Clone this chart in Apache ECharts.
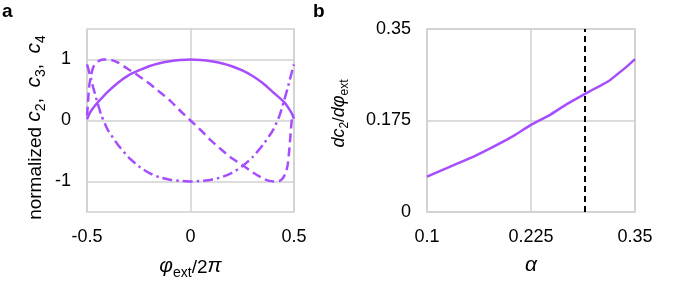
<!DOCTYPE html>
<html>
<head>
<meta charset="utf-8">
<script src="https://cdn.jsdelivr.net/npm/echarts@6/dist/echarts.min.js"></script>
<style>html,body{margin:0;padding:0;background:#fff}#c{width:675px;height:300px}</style>
</head>
<body>
<div id="c"></div>
<script>
// Panel a data
const c2X = [-0.5,-0.49,-0.48,-0.46,-0.45,-0.4,-0.35,-0.3,-0.25,-0.2,-0.15,-0.1,-0.05,0,0.05,0.1,0.15,0.2,0.25,0.3,0.35,0.4,0.45,0.46,0.48,0.49,0.5];
const c2Y = [0.02,0.1,0.16,0.25,0.29,0.47,0.62,0.74,0.82,0.89,0.94,0.97,0.99,1.0,0.99,0.97,0.94,0.89,0.82,0.73,0.61,0.46,0.31,0.27,0.17,0.11,0.03];
const c3X = [-0.5,-0.495,-0.49,-0.48,-0.47,-0.46,-0.44,-0.42,-0.4,-0.38,-0.35,-0.3,-0.25,-0.2,-0.15,-0.1,-0.05,0,0.05,0.1,0.15,0.2,0.25,0.3,0.35,0.38,0.41,0.43,0.445,0.46,0.47,0.478,0.485,0.49,0.5];
const c3Y = [0.08,0.3,0.55,0.75,0.87,0.93,0.98,1.0,1.0,0.99,0.95,0.84,0.73,0.61,0.47,0.33,0.16,0,-0.16,-0.33,-0.48,-0.62,-0.73,-0.85,-0.95,-0.99,-1.0,-0.99,-0.95,-0.86,-0.72,-0.45,-0.15,0.02,0.1];
const c4X = [-0.5,-0.49,-0.48,-0.47,-0.45,-0.43,-0.4,-0.35,-0.3,-0.25,-0.2,-0.15,-0.1,-0.05,0,0.05,0.1,0.15,0.2,0.25,0.3,0.35,0.4,0.43,0.45,0.47,0.48,0.49,0.5];
const c4Y = [0.92,0.8,0.67,0.54,0.3,0.08,-0.15,-0.4,-0.6,-0.75,-0.86,-0.93,-0.97,-0.99,-1,-0.99,-0.97,-0.93,-0.86,-0.75,-0.6,-0.4,-0.15,0.08,0.3,0.54,0.67,0.8,0.92];
// Panel b data
const alphaX = [0.1,0.128,0.156,0.18,0.204,0.225,0.248,0.268,0.29,0.308,0.318,0.328,0.34,0.35];
const dc2Y = [0.0677,0.0869,0.106,0.125,0.1456,0.1667,0.1859,0.2063,0.2261,0.2414,0.2500,0.2625,0.2780,0.2925];
const markerAlpha = 0.29;
const aYTicks = [-1,0,1];

const pair = (xs, ys) => xs.map((x,i)=>[x, ys[i]]);
const PURPLE = '#A64DFF';
const GRIDC = '#d0d0d0';
const LBL = {fontFamily:'Liberation Sans', fontSize:18, color:'#000'};
const base = {fontFamily:'Liberation Sans', color:'#000', verticalAlign:'bottom'};
const rich = {
  n:{...base, fontSize:19, lineHeight:19, padding:[0,0,3,0]},
  i:{...base, fontSize:21, lineHeight:21, fontStyle:'italic', padding:[0,0,3,0]},
  s:{...base, fontSize:14, lineHeight:14}
};
const richB = {
  n:{...base, fontSize:17, lineHeight:17, padding:[0,0,3,0]},
  i:{...base, fontSize:18, lineHeight:18, fontStyle:'italic', padding:[0,0,3,0]},
  s:{...base, fontSize:12, lineHeight:12}
};

const chart = echarts.init(document.getElementById('c'));
chart.setOption({
  animation:false,
  backgroundColor:'#fff',
  grid:[
    {left:87, top:29, width:207, height:183, show:true, borderColor:GRIDC, borderWidth:1.5},
    {left:427, top:29, width:208, height:183, show:true, borderColor:GRIDC, borderWidth:1.5}
  ],
  graphic:[
    {type:'text', left:2, top:2, style:{text:'a', font:'bold 19px Liberation Sans', fill:'#000'}},
    {type:'text', left:313, top:2, style:{text:'b', font:'bold 19px Liberation Sans', fill:'#000'}}
  ],
  xAxis:[
    {gridIndex:0, type:'value', min:-0.5, max:0.5, interval:0.5,
     axisLine:{show:false}, axisTick:{show:false},
     splitLine:{show:true, lineStyle:{color:GRIDC, width:1.5}},
     axisLabel:{...LBL, margin:16, formatter:v=>String(v)},
     name:'{i|φ}{s|ext}{n|/2}{i|π}', nameLocation:'middle', nameGap:47,
     nameTextStyle:{rich}},
    {gridIndex:1, type:'value', min:0.1, max:0.35, interval:0.125,
     axisLine:{show:false}, axisTick:{show:false},
     splitLine:{show:true, lineStyle:{color:GRIDC, width:1.5}},
     axisLabel:{...LBL, margin:16, formatter:v=>String(+v.toFixed(3))},
     name:'{i|α}', nameLocation:'middle', nameGap:46,
     nameTextStyle:{rich}}
  ],
  yAxis:[
    {gridIndex:0, type:'value', min:-1.5, max:1.5, interval:0.5,
     axisLine:{show:false}, axisTick:{show:false},
     splitLine:{show:true, lineStyle:{color:['transparent',GRIDC], width:1.5}},
     axisLabel:{...LBL, margin:16, formatter:v=>aYTicks.includes(v)?String(v):''},
     name:'{n|normalized }{i|c}{s|2}{n|,  }{i|c}{s|3}{n|,  }{i|c}{s|4}', nameLocation:'middle', nameGap:39, nameRotate:90,
     nameTextStyle:{rich, padding:[0,14,0,0]}},
    {gridIndex:1, type:'value', min:0, max:0.35, interval:0.175,
     axisLine:{show:false}, axisTick:{show:false},
     splitLine:{show:true, lineStyle:{color:GRIDC, width:1.5}},
     axisLabel:{...LBL, margin:16, formatter:v=>String(+v.toFixed(3))},
     name:'{i|dc}{s|2}{n|/}{i|dφ}{s|ext}', nameLocation:'middle', nameGap:76, nameRotate:90,
     nameTextStyle:{rich:richB, padding:[0,0,0,14]}}
  ],
  series:[
    {type:'line', xAxisIndex:0, yAxisIndex:0, data:pair(c2X,c2Y), smooth:0.2, showSymbol:false,
     lineStyle:{color:PURPLE, width:2.5}},
    {type:'line', xAxisIndex:0, yAxisIndex:0, data:pair(c3X,c3Y), smooth:0.2, showSymbol:false,
     lineStyle:{color:PURPLE, width:2.5, type:[9,5]}},
    {type:'line', xAxisIndex:0, yAxisIndex:0, data:pair(c4X,c4Y), smooth:0.2, showSymbol:false,
     lineStyle:{color:PURPLE, width:2.5, type:[10,4,2.5,4]}},
    {type:'line', xAxisIndex:1, yAxisIndex:1, data:pair(alphaX,dc2Y), smooth:0.2, showSymbol:false,
     lineStyle:{color:PURPLE, width:2.5},
     markLine:{silent:true, symbol:'none', label:{show:false},
       lineStyle:{color:'#000', width:2, type:[6,4]},
       data:[{xAxis:markerAlpha}]}}
  ]
});
</script>
</body>
</html>
